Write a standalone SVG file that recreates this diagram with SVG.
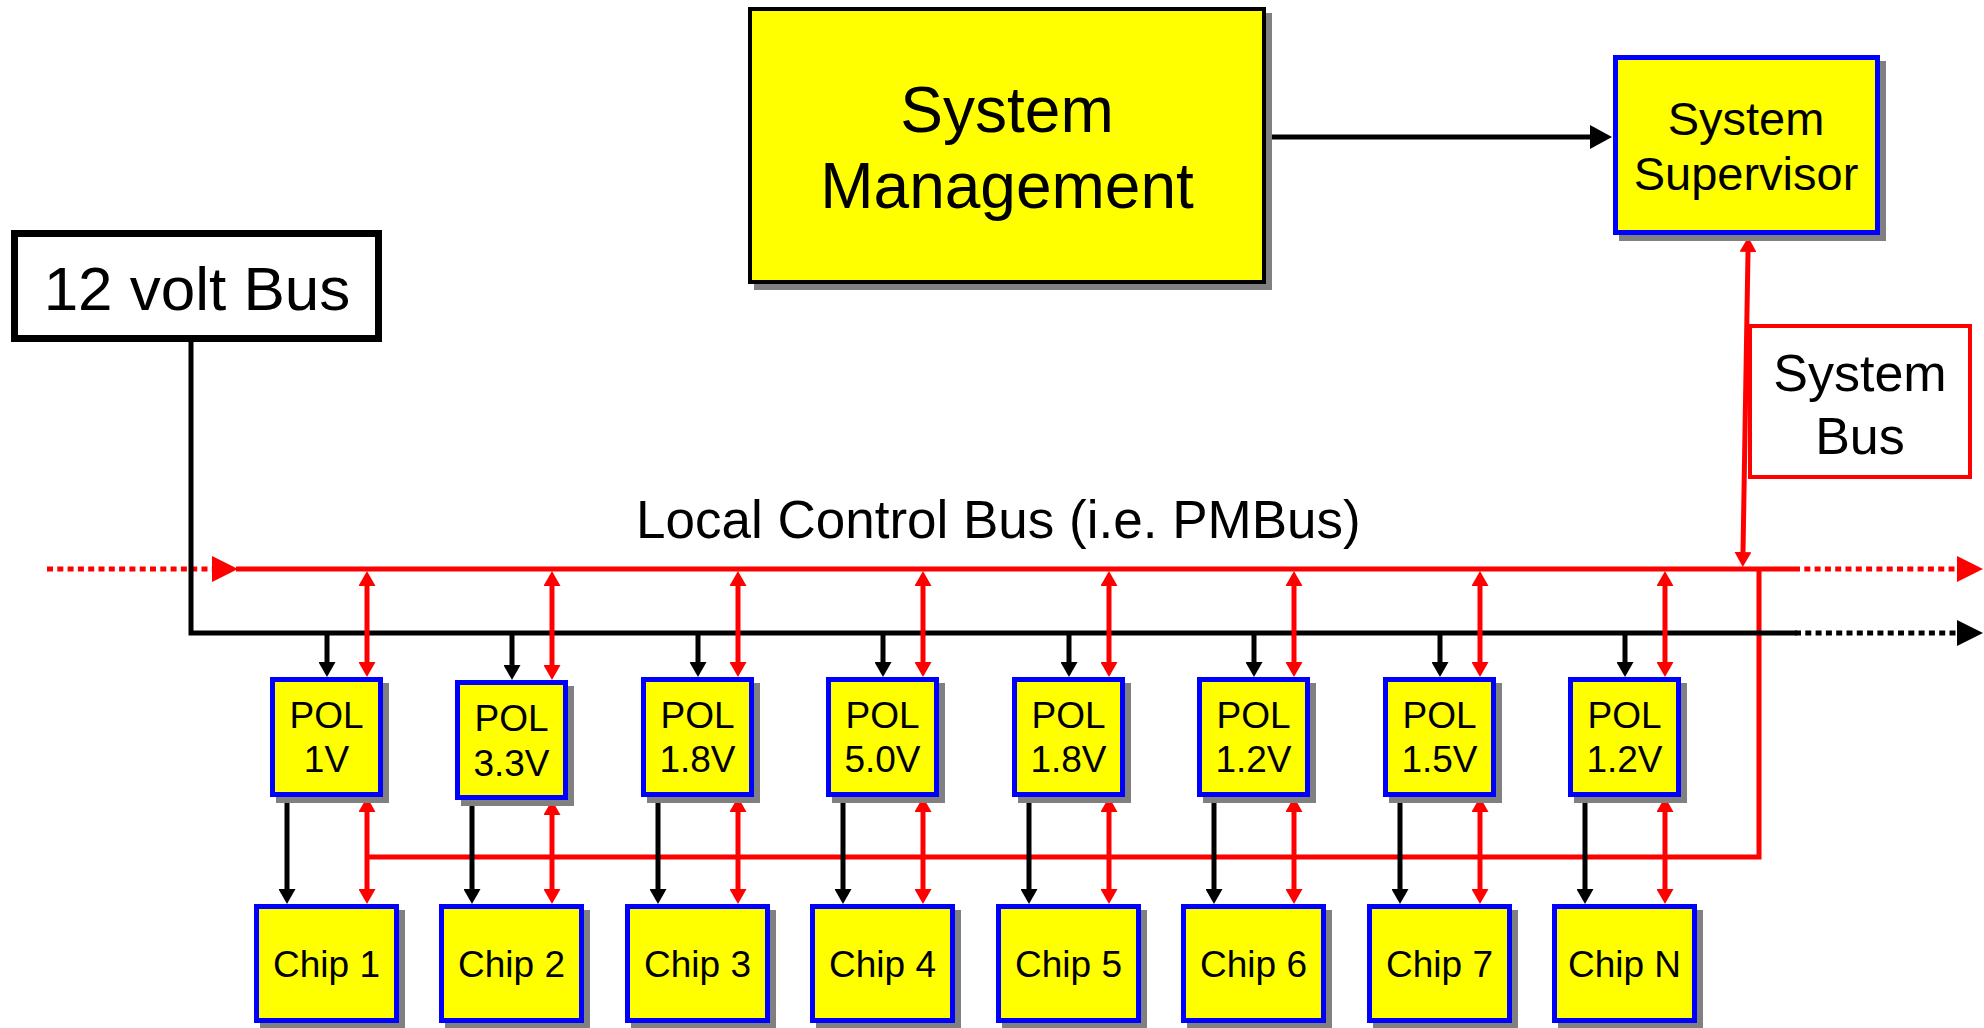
<svg xmlns="http://www.w3.org/2000/svg" width="1984" height="1028" viewBox="0 0 1984 1028">
<defs>
<style>
.shadow{fill:#808080}
.yb{fill:#FFFF00;stroke:#0000FF;stroke-width:5}
.txt{font-family:"Liberation Sans",Arial,Helvetica,sans-serif;fill:#000;text-anchor:middle}
.pol{font-size:37px}
.red{stroke:#FF0000;stroke-width:5;fill:none}
.blk{stroke:#000000;stroke-width:5;fill:none}
.dot{stroke-dasharray:6 4.3}
</style>
<marker id="arrR" viewBox="0 0 15 17" markerWidth="15" markerHeight="17" refX="0" refY="8.5" orient="auto-start-reverse" markerUnits="userSpaceOnUse"><path d="M0,0 L15,8.5 L0,17 z" fill="#FF0000"/></marker>
<marker id="arrK" viewBox="0 0 15 17" markerWidth="15" markerHeight="17" refX="0" refY="8.5" orient="auto-start-reverse" markerUnits="userSpaceOnUse"><path d="M0,0 L15,8.5 L0,17 z" fill="#000000"/></marker>
<marker id="arrRL" viewBox="0 0 26 26" markerWidth="26" markerHeight="26" refX="0" refY="13" orient="auto" markerUnits="userSpaceOnUse"><path d="M0,0 L26,13 L0,26 z" fill="#FF0000"/></marker>
<marker id="arrKL" viewBox="0 0 26 26" markerWidth="26" markerHeight="26" refX="0" refY="13" orient="auto" markerUnits="userSpaceOnUse"><path d="M0,0 L26,13 L0,26 z" fill="#000000"/></marker>
<marker id="arrKM" viewBox="0 0 22 24" markerWidth="22" markerHeight="24" refX="0" refY="12" orient="auto" markerUnits="userSpaceOnUse"><path d="M0,0 L22,12 L0,24 z" fill="#000000"/></marker>
</defs>
<rect width="1984" height="1028" fill="#FFFFFF"/>

<g id="connectors">
  <!-- lower red bus and link to local control bus -->
  <path class="red" d="M367,857 H1759 V569"/>
  <!-- local control bus (red) -->
  <path class="red dot" d="M47,569 H212" marker-end="url(#arrRL)"/>
  <path class="red" d="M236,569 H1794"/>
  <path class="red dot" d="M1794,569 H1957" marker-end="url(#arrRL)"/>
  <!-- 12 volt bus (black) -->
  <path class="blk" d="M191,342 V633 H1797" stroke-width="6"/>
  <path class="blk dot" d="M1795,633 H1957" stroke-width="6" marker-end="url(#arrKL)"/>
  <!-- system management to supervisor -->
  <path class="blk" d="M1266,137 H1590" stroke-width="6" marker-end="url(#arrKM)"/>
  <!-- system bus link -->
  <path class="red" d="M1748,252 L1743,552" marker-start="url(#arrR)" marker-end="url(#arrR)"/>

  <!-- red links bus to POL -->
  <path class="red" d="M367,586 V662" marker-start="url(#arrR)" marker-end="url(#arrR)"/>
  <path class="red" d="M552,586 V665" marker-start="url(#arrR)" marker-end="url(#arrR)"/>
  <path class="red" d="M738,586 V662" marker-start="url(#arrR)" marker-end="url(#arrR)"/>
  <path class="red" d="M923,586 V662" marker-start="url(#arrR)" marker-end="url(#arrR)"/>
  <path class="red" d="M1109,586 V662" marker-start="url(#arrR)" marker-end="url(#arrR)"/>
  <path class="red" d="M1294,586 V662" marker-start="url(#arrR)" marker-end="url(#arrR)"/>
  <path class="red" d="M1480,586 V662" marker-start="url(#arrR)" marker-end="url(#arrR)"/>
  <path class="red" d="M1665,586 V662" marker-start="url(#arrR)" marker-end="url(#arrR)"/>

  <!-- red links POL to chip -->
  <path class="red" d="M367,812 V889" marker-start="url(#arrR)" marker-end="url(#arrR)"/>
  <path class="red" d="M552,815 V889" marker-start="url(#arrR)" marker-end="url(#arrR)"/>
  <path class="red" d="M738,812 V889" marker-start="url(#arrR)" marker-end="url(#arrR)"/>
  <path class="red" d="M923,812 V889" marker-start="url(#arrR)" marker-end="url(#arrR)"/>
  <path class="red" d="M1109,812 V889" marker-start="url(#arrR)" marker-end="url(#arrR)"/>
  <path class="red" d="M1294,812 V889" marker-start="url(#arrR)" marker-end="url(#arrR)"/>
  <path class="red" d="M1480,812 V889" marker-start="url(#arrR)" marker-end="url(#arrR)"/>
  <path class="red" d="M1665,812 V889" marker-start="url(#arrR)" marker-end="url(#arrR)"/>

  <!-- black power drops bus to POL -->
  <path class="blk" d="M327,633 V662" marker-end="url(#arrK)"/>
  <path class="blk" d="M512,633 V665" marker-end="url(#arrK)"/>
  <path class="blk" d="M698,633 V662" marker-end="url(#arrK)"/>
  <path class="blk" d="M883,633 V662" marker-end="url(#arrK)"/>
  <path class="blk" d="M1069,633 V662" marker-end="url(#arrK)"/>
  <path class="blk" d="M1254,633 V662" marker-end="url(#arrK)"/>
  <path class="blk" d="M1440,633 V662" marker-end="url(#arrK)"/>
  <path class="blk" d="M1625,633 V662" marker-end="url(#arrK)"/>

  <!-- black power POL to chip -->
  <path class="blk" d="M287,797 V889" marker-end="url(#arrK)"/>
  <path class="blk" d="M472,805 V889" marker-end="url(#arrK)"/>
  <path class="blk" d="M658,797 V889" marker-end="url(#arrK)"/>
  <path class="blk" d="M843,797 V889" marker-end="url(#arrK)"/>
  <path class="blk" d="M1029,797 V889" marker-end="url(#arrK)"/>
  <path class="blk" d="M1214,797 V889" marker-end="url(#arrK)"/>
  <path class="blk" d="M1400,797 V889" marker-end="url(#arrK)"/>
  <path class="blk" d="M1585,797 V889" marker-end="url(#arrK)"/>

  <text class="txt" x="636" y="538" font-size="53" style="text-anchor:start">Local Control Bus (i.e. PMBus)</text>
</g>

<g id="twelve-volt-bus">
  <rect x="14.5" y="233.5" width="364" height="105" fill="#FFFFFF" stroke="#000000" stroke-width="7"/>
  <text class="txt" x="197" y="310" font-size="62">12 volt Bus</text>
</g>

<g id="system-management">
  <rect class="shadow" x="754" y="13" width="518" height="277"/>
  <rect x="750" y="9" width="514" height="273" fill="#FFFF00" stroke="#000000" stroke-width="4"/>
  <text class="txt" x="1007" y="132" font-size="64">System</text>
  <text class="txt" x="1007" y="208" font-size="64">Management</text>
</g>

<g id="system-supervisor">
  <rect class="shadow" x="1619" y="61" width="267" height="180"/>
  <rect class="yb" x="1615.5" y="57.5" width="262" height="175"/>
  <text class="txt" x="1746" y="135" font-size="47">System</text>
  <text class="txt" x="1746" y="190" font-size="47">Supervisor</text>
</g>

<g id="system-bus-label">
  <rect x="1750" y="326" width="220" height="151" fill="#FFFFFF" stroke="#FF0000" stroke-width="4"/>
  <text class="txt" x="1860" y="391" font-size="52">System</text>
  <text class="txt" x="1860" y="454" font-size="52">Bus</text>
</g>

<g id="pol1"><rect class="shadow" x="276" y="683" width="113" height="120"/><rect class="yb" x="272.5" y="679.5" width="108" height="115"/><text class="txt pol" x="326.5" y="728">POL</text><text class="txt pol" x="326.5" y="772">1V</text></g>
<g id="pol2"><rect class="shadow" x="461" y="686" width="113" height="120"/><rect class="yb" x="457.5" y="682.5" width="108" height="115"/><text class="txt pol" x="511.5" y="731">POL</text><text class="txt pol" x="511.5" y="776">3.3V</text></g>
<g id="pol3"><rect class="shadow" x="647" y="683" width="113" height="120"/><rect class="yb" x="643.5" y="679.5" width="108" height="115"/><text class="txt pol" x="697.5" y="728">POL</text><text class="txt pol" x="697.5" y="772">1.8V</text></g>
<g id="pol4"><rect class="shadow" x="832" y="683" width="113" height="120"/><rect class="yb" x="828.5" y="679.5" width="108" height="115"/><text class="txt pol" x="882.5" y="728">POL</text><text class="txt pol" x="882.5" y="772">5.0V</text></g>
<g id="pol5"><rect class="shadow" x="1018" y="683" width="113" height="120"/><rect class="yb" x="1014.5" y="679.5" width="108" height="115"/><text class="txt pol" x="1068.5" y="728">POL</text><text class="txt pol" x="1068.5" y="772">1.8V</text></g>
<g id="pol6"><rect class="shadow" x="1203" y="683" width="113" height="120"/><rect class="yb" x="1199.5" y="679.5" width="108" height="115"/><text class="txt pol" x="1253.5" y="728">POL</text><text class="txt pol" x="1253.5" y="772">1.2V</text></g>
<g id="pol7"><rect class="shadow" x="1389" y="683" width="113" height="120"/><rect class="yb" x="1385.5" y="679.5" width="108" height="115"/><text class="txt pol" x="1439.5" y="728">POL</text><text class="txt pol" x="1439.5" y="772">1.5V</text></g>
<g id="pol8"><rect class="shadow" x="1574" y="683" width="113" height="120"/><rect class="yb" x="1570.5" y="679.5" width="108" height="115"/><text class="txt pol" x="1624.5" y="728">POL</text><text class="txt pol" x="1624.5" y="772">1.2V</text></g>

<g id="chip1"><rect class="shadow" x="260" y="910" width="145" height="119"/><rect class="yb" x="256.5" y="906.5" width="140" height="114"/><text class="txt pol" x="326.5" y="977">Chip 1</text></g>
<g id="chip2"><rect class="shadow" x="445" y="910" width="145" height="119"/><rect class="yb" x="441.5" y="906.5" width="140" height="114"/><text class="txt pol" x="511.5" y="977">Chip 2</text></g>
<g id="chip3"><rect class="shadow" x="631" y="910" width="145" height="119"/><rect class="yb" x="627.5" y="906.5" width="140" height="114"/><text class="txt pol" x="697.5" y="977">Chip 3</text></g>
<g id="chip4"><rect class="shadow" x="816" y="910" width="145" height="119"/><rect class="yb" x="812.5" y="906.5" width="140" height="114"/><text class="txt pol" x="882.5" y="977">Chip 4</text></g>
<g id="chip5"><rect class="shadow" x="1002" y="910" width="145" height="119"/><rect class="yb" x="998.5" y="906.5" width="140" height="114"/><text class="txt pol" x="1068.5" y="977">Chip 5</text></g>
<g id="chip6"><rect class="shadow" x="1187" y="910" width="145" height="119"/><rect class="yb" x="1183.5" y="906.5" width="140" height="114"/><text class="txt pol" x="1253.5" y="977">Chip 6</text></g>
<g id="chip7"><rect class="shadow" x="1373" y="910" width="145" height="119"/><rect class="yb" x="1369.5" y="906.5" width="140" height="114"/><text class="txt pol" x="1439.5" y="977">Chip 7</text></g>
<g id="chip8"><rect class="shadow" x="1558" y="910" width="145" height="119"/><rect class="yb" x="1554.5" y="906.5" width="140" height="114"/><text class="txt pol" x="1624.5" y="977">Chip N</text></g>
</svg>
